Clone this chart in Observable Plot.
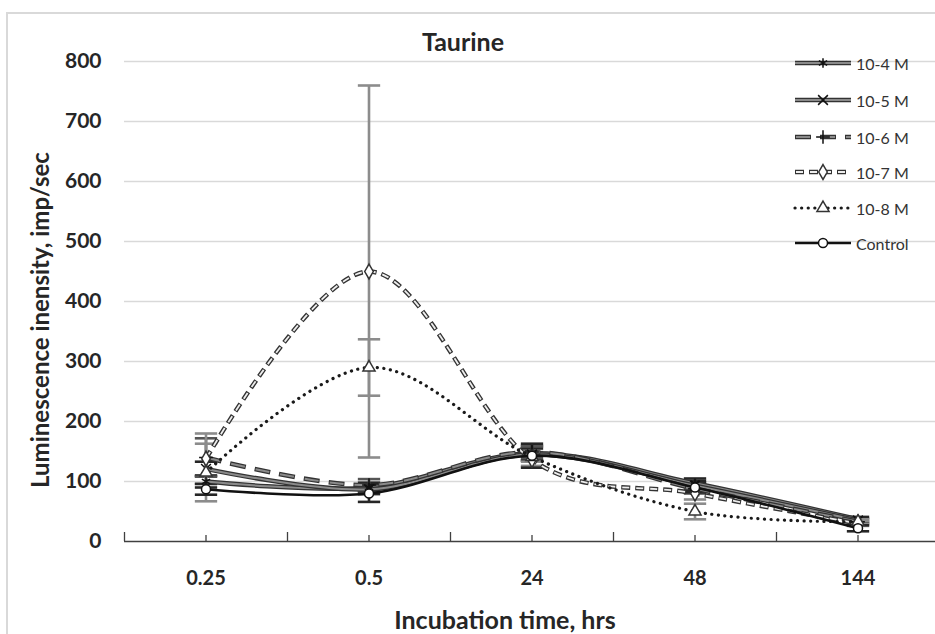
<!DOCTYPE html>
<html>
<head>
<meta charset="utf-8">
<script src="https://cdn.jsdelivr.net/npm/d3@7"></script>
<script src="https://cdn.jsdelivr.net/npm/@observablehq/plot@0.6"></script>
<style>
  body { margin: 0; background: #fff; }
  #wrap { position: relative; width: 935px; height: 634px; overflow: hidden; font-family: Lato, "Open Sans", sans-serif; color: #262626; }
  #wrap > svg { position: absolute; left: 0; top: 0; }
  #frame { position: absolute; left: 6px; top: 12px; width: 1200px; height: 1200px; border-left: 2px solid #d9d9d9; border-top: 2px solid #d9d9d9; pointer-events: none; }
  .lbl { position: absolute; font-weight: bold; white-space: nowrap; transform: translate(-50%, -50%); line-height: 1; }
  #legend { position: absolute; left: 795px; top: 0; }
  .leg { position: absolute; left: 0; height: 20px; display: flex; align-items: center; font-size: 16px; color: #333; white-space: nowrap; }
  .leg svg { margin-right: 5px; overflow: visible; }
</style>
</head>
<body>
<div id="wrap"></div>
<script>
// ---------- data ----------
const categories = ["0.25", "0.5", "24", "48", "144"];
const seriesNames = ["10-4 M", "10-5 M", "10-6 M", "10-7 M", "10-8 M", "Control"];
const val104 = [100, 90, 147, 97, 37];
const val105 = [121, 87, 145, 93, 35];
const val106 = [140, 94, 149, 88, 33];
const val107 = [138, 450, 136, 80, 30];
const val108 = [115, 290, 141, 50, 33];
const valCtl = [87, 80, 143, 90, 22];
const err104 = [10, 8, 12, 8, 4];
const err105 = [12, 8, 10, 8, 4];
const err106 = [32, 10, 10, 8, 4];
const err107 = [42, 310, 10, 10, 4];
const err108 = [48, 47, 8, 13, 4];
const errCtl = [9, 14, 20, 8, 5];
const yTicks = [0, 100, 200, 300, 400, 500, 600, 700, 800];

const values = [val104, val105, val106, val107, val108, valCtl];
const errors = [err104, err105, err106, err107, err108, errCtl];

// ---------- styles ----------
const styles = [
  { layers: [{ stroke: "#333", w: 4.5 }, { stroke: "#8a8a8a", w: 2 }], symbol: "asterisk", fill: "none", mstroke: "#111", ecolor: "#262626" },
  { layers: [{ stroke: "#333", w: 4.5 }, { stroke: "#8a8a8a", w: 2 }], symbol: "times", fill: "none", mstroke: "#111", ecolor: "#262626" },
  { layers: [{ stroke: "#333", w: 4.5, dash: "16,9" }, { stroke: "#8a8a8a", w: 2, dash: "14,11", off: -1 }], symbol: "plus", fill: "none", mstroke: "#111", ecolor: "#555" },
  { layers: [{ stroke: "#333", w: 4.5, dash: "9,5" }, { stroke: "#eee", w: 1.8, dash: "7,7", off: -1 }], symbol: "diamond", fill: "white", mstroke: "#333", ecolor: "#8c8c8c" },
  { layers: [{ stroke: "#1a1a1a", w: 3.2, dash: "0.1,6.5", cap: "round" }], symbol: "triangle", fill: "white", mstroke: "#333", ecolor: "#8c8c8c" },
  { layers: [{ stroke: "#111", w: 2.6 }], symbol: "circle", fill: "white", mstroke: "#111", ecolor: "#262626" }
];

// ---------- table ----------
const rows = [];
seriesNames.forEach((s, k) => categories.forEach((c, i) => rows.push({ series: s, k, i, v: values[k][i], e: errors[k][i] })));

const capSymbol = { draw(ctx, size) { const w = Math.sqrt(size) * 0.9; ctx.moveTo(-w, 0); ctx.lineTo(w, 0); } };

const marks = [
  Plot.gridY(yTicks.filter(d => d > 0), { stroke: "#d9d9d9", strokeOpacity: 1, strokeWidth: 1.3 }),
  Plot.axisY(yTicks, { tickSize: 0, tickPadding: 23, fontSize: 21, fontWeight: "bold", label: null }),
  Plot.axisX(categories.map((c, i) => i), { tickSize: 0, tickPadding: 29, fontSize: 20, fontWeight: "bold", tickFormat: i => categories[i], label: null }),
  Plot.ruleY([0], { stroke: "#404040", strokeWidth: 1.6 }),
  Plot.ruleX(d3.range(-0.5, 5, 1), { y1: 0, y2: 15, stroke: "#404040", strokeWidth: 1.3 }),
  Plot.ruleX(categories.map((c, i) => i), { y1: 0, y2: 10, stroke: "#404040", strokeWidth: 1.3 })
];

// error bars
styles.forEach((st, k) => {
  const d = rows.filter(r => r.k === k);
  marks.push(Plot.ruleX(d, { x: "i", y1: r => r.v - r.e, y2: r => r.v + r.e, stroke: st.ecolor, strokeWidth: 2.6 }));
  marks.push(Plot.dot(d, { x: "i", y: r => r.v + r.e, symbol: capSymbol, r: 7, stroke: st.ecolor, strokeWidth: 2.6 }));
  marks.push(Plot.dot(d, { x: "i", y: r => r.v - r.e, symbol: capSymbol, r: 7, stroke: st.ecolor, strokeWidth: 2.6 }));
});

// lines and markers
styles.forEach((st, k) => {
  const d = rows.filter(r => r.k === k);
  st.layers.forEach(L => {
    marks.push(Plot.line(d, { x: "i", y: "v", curve: "cardinal", stroke: L.stroke, strokeWidth: L.w, strokeDasharray: L.dash, strokeDashoffset: L.off, strokeLinecap: L.cap || "butt" }));
  });
});
styles.forEach((st, k) => {
  const d = rows.filter(r => r.k === k);
  marks.push(Plot.dot(d, { x: "i", y: "v", symbol: st.symbol, r: 4.5, fill: st.fill, stroke: st.mstroke, strokeWidth: 1.5 }));
});

const chart = Plot.plot({
  width: 935,
  height: 634,
  marginLeft: 124,
  marginRight: -4,
  marginTop: 61,
  marginBottom: 93,
  x: { domain: [-0.5, 4.5] },
  y: { domain: [0, 800] },
  style: { fontFamily: "Lato, 'Open Sans', sans-serif", background: "transparent", overflow: "visible", color: "#262626" },
  marks
});

const wrap = document.getElementById("wrap");
wrap.appendChild(chart);

const frame = document.createElement("div");
frame.id = "frame";
wrap.appendChild(frame);

function label(text, x, y, size, rot) {
  const el = document.createElement("div");
  el.className = "lbl";
  el.textContent = text;
  el.style.left = x + "px";
  el.style.top = y + "px";
  el.style.fontSize = size + "px";
  if (rot) el.style.transform = "translate(-50%, -50%) rotate(-90deg)";
  wrap.appendChild(el);
}
label("Taurine", 463, 41, 25);
label("Luminescence inensity, imp/sec", 40, 320, 24, true);
label("Incubation time, hrs", 505, 619, 25);

// legend
const legend = document.createElement("div");
legend.id = "legend";
wrap.appendChild(legend);
const legendY = [63, 100, 137, 172, 208, 243];
seriesNames.forEach((s, k) => {
  const st = styles[k];
  const item = document.createElement("div");
  item.className = "leg";
  item.style.top = (legendY[k] - 10) + "px";
  const svg = d3.create("svg").attr("width", 56).attr("height", 20);
  st.layers.forEach(L => {
    svg.append("line").attr("x1", 0).attr("x2", 56).attr("y1", 10).attr("y2", 10)
      .attr("stroke", L.stroke).attr("stroke-width", L.w)
      .attr("stroke-dasharray", L.dash || null).attr("stroke-dashoffset", L.off || null)
      .attr("stroke-linecap", L.cap || "butt");
  });
  const symMap = { asterisk: d3.symbolAsterisk, times: d3.symbolTimes, plus: d3.symbolPlus, diamond: d3.symbolDiamond, triangle: d3.symbolTriangle, circle: d3.symbolCircle };
  svg.append("path").attr("transform", "translate(28,10)")
    .attr("d", d3.symbol(symMap[st.symbol], 4.5 * 4.5 * Math.PI)())
    .attr("fill", st.fill).attr("stroke", st.mstroke).attr("stroke-width", 1.5);
  item.appendChild(svg.node());
  const t = document.createElement("span");
  t.textContent = s;
  item.appendChild(t);
  legend.appendChild(item);
});
</script>
</body>
</html>
